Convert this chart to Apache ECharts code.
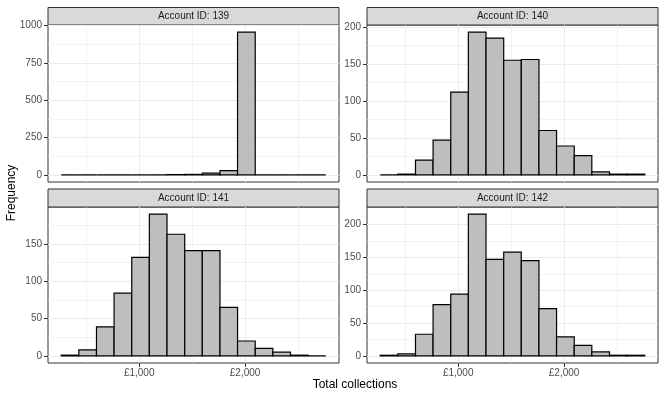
<!DOCTYPE html>
<html>
<head>
<meta charset="utf-8">
<script src="https://cdn.jsdelivr.net/npm/echarts@6/dist/echarts.min.js"></script>
<style>
  html, body { margin: 0; padding: 0; background: #fff; }
  #chart { width: 664px; height: 399px; }
</style>
</head>
<body>
<div id="chart"></div>
<script>
// histogram bins (total collections, £) - 15 bins shared by every account
const binEdges = [264, 430, 597, 763, 930, 1096, 1263, 1430, 1596, 1763, 1929, 2096, 2262, 2429, 2595, 2762];

// frequency per bin, one array per account
const counts139 = [0, 0, 0, 0, 0, 0, 2, 3, 11, 29, 955, 0, 0, 0, 0];
const counts140 = [0, 1, 20, 47, 112, 193, 185, 155, 156, 60, 39, 26, 4, 1, 1];
const counts141 = [1, 8, 39, 84, 132, 190, 163, 141, 141, 65, 20, 10, 5, 1, 0];
const counts142 = [1, 3, 33, 78, 94, 216, 147, 158, 145, 72, 29, 16, 6, 1, 1];

// tick labels
const xTicks = [1000, 2000];
const xMinor = [500, 1500, 2500];
const yTicks139 = [0, 250, 500, 750, 1000];
const yMinor139 = [125, 375, 625, 875];
const yTicks140 = [0, 50, 100, 150, 200];
const yMinor140 = [25, 75, 125, 175];
const yTicks141 = [0, 50, 100, 150];
const yMinor141 = [25, 75, 125, 175];
const yTicks142 = [0, 50, 100, 150, 200];
const yMinor142 = [25, 75, 125, 175];

const FONT = 'Liberation Sans';
const W = 291;
const panels = [
  { id: '139', counts: counts139, yTicks: yTicks139, yMinor: yMinor139, left: 48,  top: 25,  height: 157, strip: 7.5, bottomRow: false },
  { id: '140', counts: counts140, yTicks: yTicks140, yMinor: yMinor140, left: 367, top: 25,  height: 157, strip: 7.5, bottomRow: false },
  { id: '141', counts: counts141, yTicks: yTicks141, yMinor: yMinor141, left: 48,  top: 207, height: 156, strip: 189, bottomRow: true },
  { id: '142', counts: counts142, yTicks: yTicks142, yMinor: yMinor142, left: 367, top: 207, height: 156, strip: 189, bottomRow: true }
];

// ggplot style 5% expansion
const xSpan = binEdges[binEdges.length - 1] - binEdges[0];
const xMin = binEdges[0] - xSpan * 0.05;
const xMax = binEdges[binEdges.length - 1] + xSpan * 0.05;

const gridLine = (w) => ({ show: true, lineStyle: { color: '#EBEBEB', width: w } });

const grids = [], xAxes = [], yAxes = [], series = [], graphics = [];

panels.forEach((p, i) => {
  const yMaxData = Math.max(...p.counts);
  const yMin = -yMaxData * 0.05, yMax = yMaxData * 1.05;

  grids.push({ left: p.left, top: p.top, width: W, height: p.height,
    show: true, backgroundColor: '#fff', borderColor: '#333333', borderWidth: 1 });

  // main x axis (major grid, ticks, labels on bottom row)
  xAxes.push({
    type: 'value', gridIndex: i, min: xMin, max: xMax, position: 'bottom',
    axisLine: { show: false, onZero: false },
    axisTick: { show: p.bottomRow, length: 4, customValues: xTicks, lineStyle: { color: '#333333' } },
    axisLabel: { show: p.bottomRow, customValues: xTicks, margin: 5, fontFamily: FONT, fontSize: 10, color: '#4D4D4D',
      formatter: v => '£' + v.toLocaleString('en-GB') },
    splitLine: gridLine(1)
  });
  // minor x grid
  xAxes.push({
    type: 'value', gridIndex: i, min: xMin, max: xMax, position: 'bottom',
    axisLine: { show: false, onZero: false },
    axisTick: { show: false, customValues: xMinor },
    axisLabel: { show: false, customValues: xMinor },
    splitLine: gridLine(0.6)
  });
  yAxes.push({
    type: 'value', gridIndex: i, min: yMin, max: yMax,
    axisLine: { show: false, onZero: false },
    axisTick: { show: true, length: 4, customValues: p.yTicks, lineStyle: { color: '#333333' } },
    axisLabel: { customValues: p.yTicks, margin: 6, fontFamily: FONT, fontSize: 10, color: '#4D4D4D',
      formatter: v => String(v) },
    splitLine: gridLine(1)
  });
  yAxes.push({
    type: 'value', gridIndex: i, min: yMin, max: yMax,
    axisLine: { show: false, onZero: false },
    axisTick: { show: false, customValues: p.yMinor },
    axisLabel: { show: false, customValues: p.yMinor },
    splitLine: gridLine(0.6)
  });

  series.push({
    type: 'custom',
    xAxisIndex: i * 2, yAxisIndex: i * 2,
    data: p.counts.map((c, k) => [binEdges[k], binEdges[k + 1], c]),
    renderItem: (params, api) => {
      const a = api.coord([api.value(0), api.value(2)]);
      const b = api.coord([api.value(1), 0]);
      return {
        type: 'rect',
        shape: { x: a[0], y: a[1], width: b[0] - a[0], height: b[1] - a[1] },
        style: { fill: '#BEBEBE', stroke: '#000', lineWidth: 1.2 }
      };
    },
    silent: true
  });

  // facet strip
  graphics.push({
    type: 'rect', shape: { x: p.left, y: p.strip, width: W, height: p.top - p.strip },
    style: { fill: '#D9D9D9', stroke: '#333333', lineWidth: 1 }
  });
  graphics.push({
    type: 'text', x: p.left + W / 2, y: (p.strip + p.top) / 2,
    style: { text: 'Account ID: ' + p.id, fontFamily: FONT, fontSize: 10, fill: '#1A1A1A', align: 'center', verticalAlign: 'middle' }
  });
});

// axis titles
graphics.push({
  type: 'text', x: 12, y: 193, rotation: Math.PI / 2,
  style: { text: 'Frequency', fontFamily: FONT, fontSize: 12, fill: '#000', align: 'center', verticalAlign: 'middle' }
});
graphics.push({
  type: 'text', x: 355, y: 385,
  style: { text: 'Total collections', fontFamily: FONT, fontSize: 12, fill: '#000', align: 'center', verticalAlign: 'middle' }
});

const chart = echarts.init(document.getElementById('chart'), null, { renderer: 'canvas' });
chart.setOption({
  animation: false,
  backgroundColor: '#fff',
  grid: grids,
  xAxis: xAxes,
  yAxis: yAxes,
  series: series,
  graphic: graphics
});
</script>
</body>
</html>
